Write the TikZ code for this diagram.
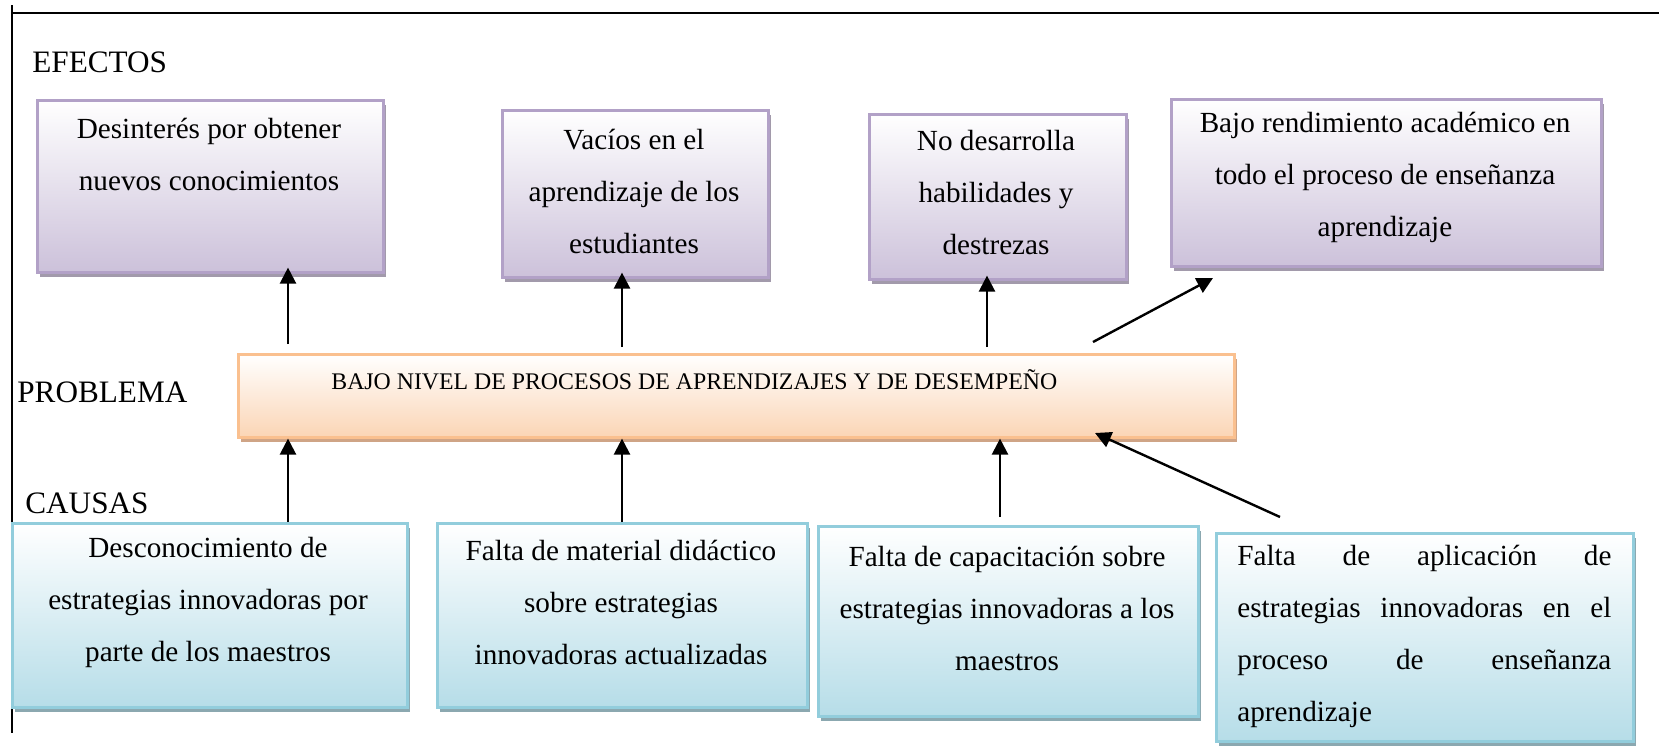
\documentclass[tikz,border=0pt]{standalone}
\usepackage{fontspec}
\setmainfont{Liberation Serif}
\usetikzlibrary{arrows.meta}
\usetikzlibrary{shadows}

\definecolor{lilaborde}{HTML}{B2A1C7}
\definecolor{lilafondo}{HTML}{CCC1DA}
\definecolor{lilasombra}{HTML}{A29AAB}
\definecolor{naranjaborde}{HTML}{FAC08F}
\definecolor{naranjafondo}{HTML}{FBD5B5}
\definecolor{naranjasombra}{HTML}{CFA486}
\definecolor{azulborde}{HTML}{92CDDC}
\definecolor{azulfondo}{HTML}{B6DDE8}
\definecolor{azulsombra}{HTML}{8BA8B0}

\tikzset{
    sombra/.style={drop shadow={shadow xshift=1.5pt,shadow yshift=-2.5pt,opacity=1,fill=#1}},
    caja/.style={draw,line width=1.3pt,anchor=north west,inner sep=0pt},
    efecto/.style={caja,draw=lilaborde,top color=white,bottom color=lilafondo,sombra=lilasombra},
    problema/.style={caja,draw=naranjaborde,top color=white,bottom color=naranjafondo,sombra=naranjasombra},
    causa/.style={caja,draw=azulborde,top color=white,bottom color=azulfondo,sombra=azulsombra},
    texto/.style={inner sep=0pt,align=center,font=\fontsize{14.6pt}{26pt}\selectfont},
    titulo/.style={inner sep=0pt,anchor=west,font=\fontsize{15.6pt}{18pt}\selectfont},
    flecha/.style={line width=1.2pt,-{Triangle[length=8pt,width=8pt]}},
    marco/.style={line width=0.9pt}
}

\begin{document}
\begin{tikzpicture}[x=0.5pt,y=-0.5pt]
        \useasboundingbox (0,0) rectangle (1659,755);

        % frame
        \draw[marco] (12,5) -- (12,733);
        \draw[marco] (12,13) -- (1659,13);

        % titles
        \node[titulo] (efectos) at (32,62) {EFECTOS};
        \node[titulo] (problema) at (17,392) {PROBLEMA};
        \node[titulo] (causas) at (25,503) {CAUSAS};

        % effects
        \node[efecto,minimum width=173pt,minimum height=86pt] (e1) at (36,99) {};
        \node[efecto,minimum width=133pt,minimum height=83.5pt] (e2) at (501,109) {};
        \node[efecto,minimum width=128.5pt,minimum height=82.5pt] (e3) at (868,113) {};
        \node[efecto,minimum width=215pt,minimum height=83.5pt] (e4) at (1170,98) {};
        \node[texto] (e1t) at (209,154) {Desinterés por obtener\\nuevos conocimientos};
        \node[texto] (e2t) at (634,191) {Vacíos en el\\aprendizaje de los\\estudiantes};
        \node[texto] (e3t) at (996,193) {No desarrolla\\habilidades y\\destrezas};
        \node[texto] (e4t) at (1385,177) {Bajo rendimiento académico en\\todo el proceso de enseñanza\\aprendizaje};

        % problem
        \node[problema,minimum width=498pt,minimum height=41.5pt] (prob) at (237,353) {};
        \node[inner sep=0pt,anchor=west,font=\fontsize{11.9pt}{14pt}\selectfont] (probt) at (331,380)
            {BAJO NIVEL DE PROCESOS DE APRENDIZAJES Y DE DESEMPEÑO};

        % causes
        \node[causa,minimum width=197.5pt,minimum height=92pt] (c1) at (11,522) {};
        \node[causa,minimum width=185pt,minimum height=92pt] (c2) at (436,522) {};
        \node[causa,minimum width=190pt,minimum height=95pt] (c3) at (817,525) {};
        \node[causa,minimum width=208.5pt,minimum height=104pt] (c4) at (1215,532) {};
        \node[texto] (c1t) at (208,602) {Desconocimiento de\\estrategias innovadoras por\\parte de los maestros};
        \node[texto] (c2t) at (621,602) {Falta de material didáctico\\sobre estrategias\\innovadoras actualizadas};
        \node[texto] (c3t) at (1007,608) {Falta de capacitación sobre\\estrategias innovadoras a los\\maestros};
        \node[texto,align=left,text width=187pt,anchor=west] (c4t) at (1237,636)
            {Falta\hfill de\hfill aplicación\hfill de\\estrategias\hfill innovadoras\hfill en\hfill el\\proceso\hfill de\hfill enseñanza\\aprendizaje};

        % arrows to the effects
        \coordinate (s1) at (288,344);
        \coordinate (s2) at (622,347);
        \coordinate (s3) at (987,347);
        \coordinate (s4) at (1093,342);
        \coordinate (t4) at (1213,278);
        \draw[flecha,shorten >=-3pt] (s1) -- (s1 |- e1.south);
        \draw[flecha,shorten >=-3pt] (s2) -- (s2 |- e2.south);
        \draw[flecha,shorten >=-2.5pt] (s3) -- (s3 |- e3.south);
        \draw[flecha] (s4) -- (t4);

        % arrows from the causes
        \coordinate (u3) at (1000,517);
        \coordinate (u4) at (1280,517);
        \coordinate (v4) at (1095,433);
        \draw[flecha] (c1.north -| s1) -- (prob.south -| s1);
        \draw[flecha] (c2.north -| s2) -- (prob.south -| s2);
        \draw[flecha] (u3) -- (u3 |- prob.south);
        \draw[flecha] (u4) -- (v4);
    \end{tikzpicture}
\end{document}
